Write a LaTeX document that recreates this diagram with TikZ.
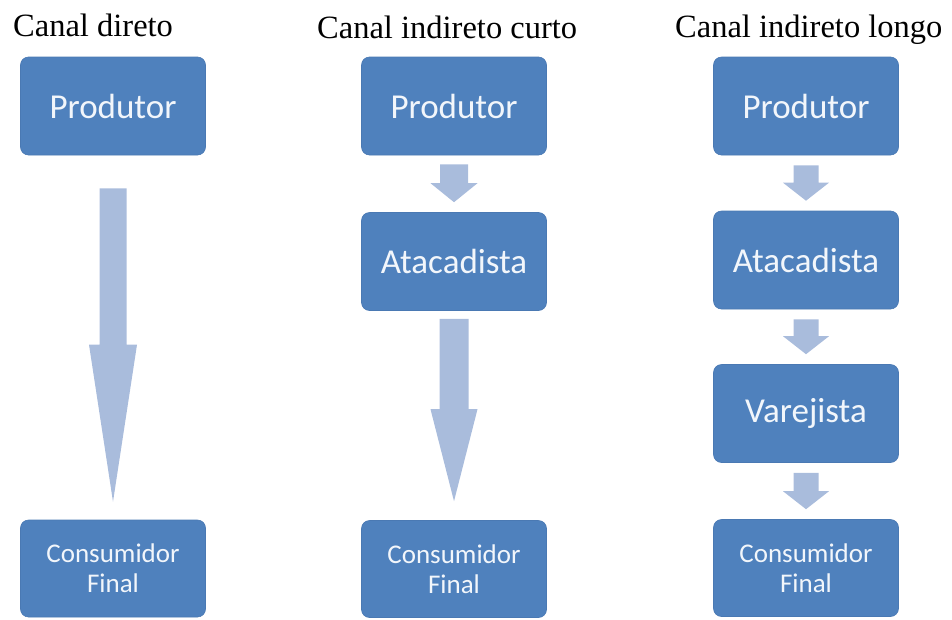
\documentclass[tikz,border=0pt]{standalone}
\usepackage{fontspec}
\setmainfont{Liberation Serif}
\newfontfamily\boxfont{Carlito}
\usetikzlibrary{calc}
\definecolor{boxblue}{HTML}{4F81BD}
\definecolor{boxedge}{HTML}{4A79B3}
\definecolor{arrowblue}{HTML}{A9BCDC}
\definecolor{boxtext}{HTML}{F2F6FB}
% #1 from, #2 to, #3 top gap, #4 tip gap, #5 head length, #6 shaft half width, #7 head half width
\newcommand\blockarrow[7]{%
  \fill[arrowblue] let \p1=(#1.south), \p2=(#2.north) in
  (\x1-#6,\y1-#3) -- (\x1+#6,\y1-#3) -- (\x1+#6,\y2+#4+#5) -- (\x1+#7,\y2+#4+#5)
  -- (\x1,\y2+#4) -- (\x1-#7,\y2+#4+#5) -- (\x1-#6,\y2+#4+#5) -- cycle;}
\tikzset{
  stagebox/.style={rounded corners=8pt, fill=boxblue, draw=boxedge, line width=0.6pt,
    minimum width=185pt, minimum height=98pt, text=boxtext, inner sep=0pt, align=center,
    font=\boxfont\fontsize{35}{41}\selectfont},
  endbox/.style={stagebox, minimum height=97pt, font=\boxfont\fontsize{27}{30}\selectfont},
  title/.style={anchor=base west, inner sep=0pt, font=\fontsize{32.5}{38}\selectfont}
}
\begin{document}
\begin{tikzpicture}[x=1pt,y=-1pt]
\useasboundingbox (0,0) rectangle (952,619);
% titles
\node[title] (t1) at (13,36.7) {Canal direto};
\node[title] (t2) at (317,38) {Canal indireto curto};
\node[title] (t3) at (675,37) {Canal indireto longo};
% column 1
\node[stagebox] (p1) at (113,106) {Produtor};
\node[endbox] (c1) at (113,568.5) {Consumidor\\Final};
% column 2
\node[stagebox] (p2) at (454,106) {Produtor};
\node[stagebox] (a2) at (454,261.5) {Atacadista};
\node[endbox] (c2) at (454,569) {Consumidor\\Final};
% column 3
\node[stagebox] (p3) at (806,106) {Produtor};
\node[stagebox] (a3) at (806,260) {Atacadista};
\node[stagebox] (v3) at (806,413.5) {Varejista};
\node[endbox] (c3) at (806,568) {Consumidor\\Final};
% arrows
\blockarrow{p1}{c1}{33pt}{18pt}{157pt}{13.5pt}{24pt}
\blockarrow{p2}{a2}{9pt}{10pt}{19pt}{14pt}{23.5pt}
\blockarrow{a2}{c2}{8pt}{19pt}{92pt}{14.5pt}{23.5pt}
\blockarrow{p3}{a3}{10pt}{10pt}{18pt}{12.5pt}{23pt}
\blockarrow{a3}{v3}{10pt}{10pt}{18pt}{12.5pt}{23pt}
\blockarrow{v3}{c3}{10pt}{10pt}{18pt}{12.5pt}{23pt}
\end{tikzpicture}
\end{document}
